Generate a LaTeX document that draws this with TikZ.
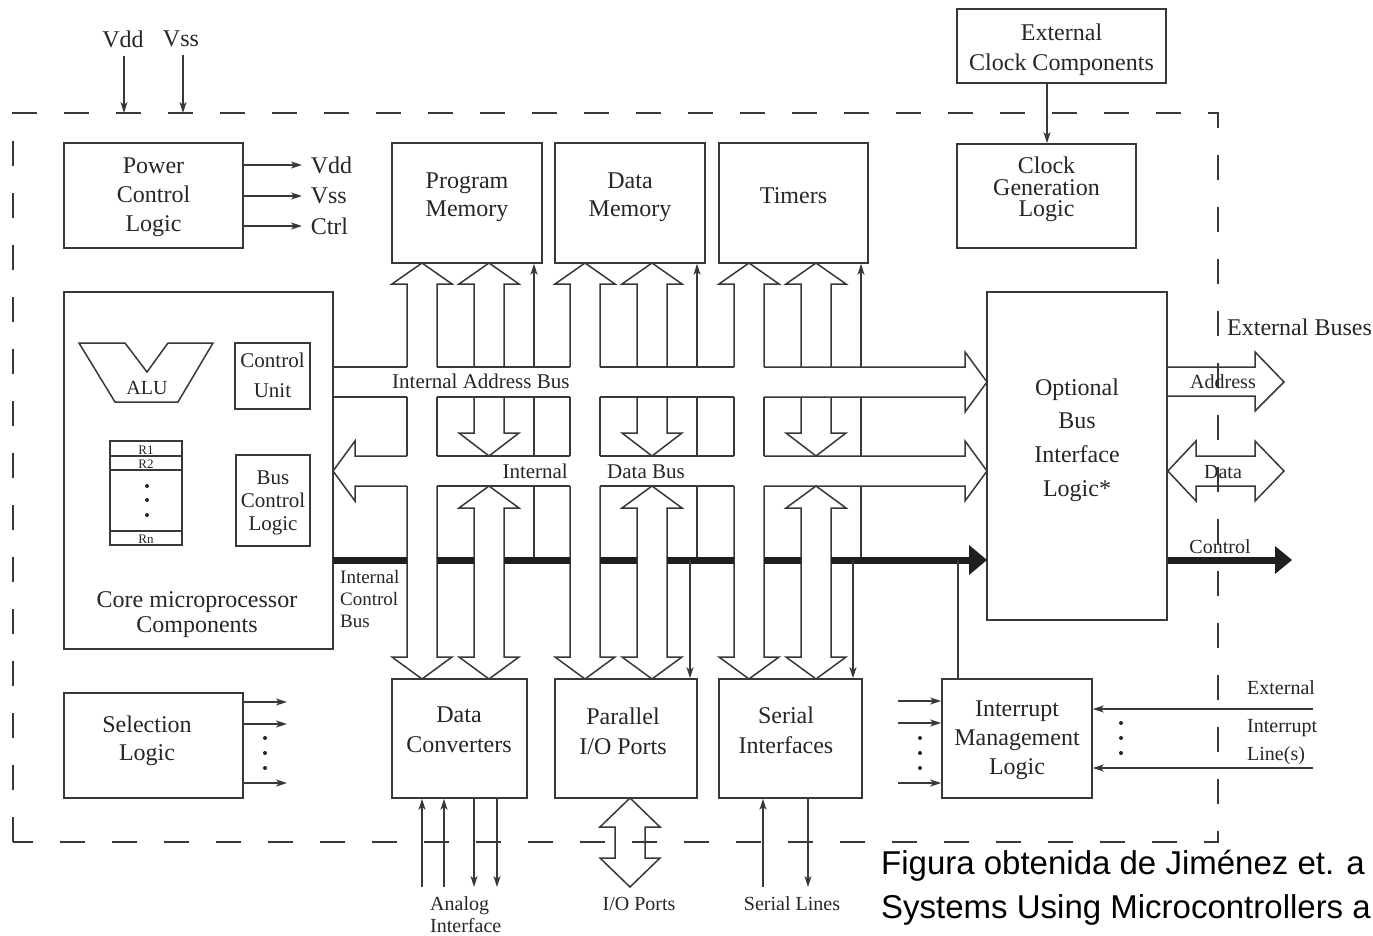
\documentclass[tikz,border=0pt]{standalone}
\usepackage{fontspec}
\setmainfont{Liberation Serif}
\newfontfamily\capfont{Liberation Sans}
\usetikzlibrary{arrows.meta}
\definecolor{ln}{gray}{0.22}
\definecolor{tx}{gray}{0.15}
\begin{document}
\begin{tikzpicture}[x=1pt,y=-1pt,
  box/.style={draw=ln,line width=1.6pt,inner sep=0pt},
  lbl/.style={text=tx,align=center,inner sep=0pt,font=\fontsize{24}{29}\selectfont},
  small/.style={text=tx,inner sep=0pt,font=\fontsize{20}{22}\selectfont},
  wire/.style={draw=ln,line width=1.5pt},
  arr/.style={wire,-{Stealth[length=11pt,width=7pt,inset=3pt]}},
  bus/.style={draw=ln,line width=1.5pt,line join=miter},
  cbus/.style={draw=black!88,line width=7pt},
  ctip/.style={fill=black!88},
]
\useasboundingbox (0,0) rectangle (1373,936);
\fill[white] (0,0) rectangle (1373,936);

% ---------- chip outline ----------
\draw[ln,line width=1.5pt,dash pattern=on 25pt off 27pt]
  (13,842) -- (13,113) -- (1218,113) -- (1218,842) -- cycle;

% ---------- blocks ----------
\node[box,minimum width=179,minimum height=105] (pcl) at (153.5,195.5) {};
\node[lbl] (pcl-t) at (153.5,197) {Power\\Control\\Logic};

\node[box,minimum width=150,minimum height=120] (pm) at (467,203) {};
\node[lbl,font=\fontsize{24}{28}\selectfont] (pm-t) at (467,197.5) {Program\\Memory};
\node[box,minimum width=150,minimum height=120] (dm) at (630,203) {};
\node[lbl,font=\fontsize{24}{28}\selectfont] (dm-t) at (630,197.5) {Data\\Memory};
\node[box,minimum width=149,minimum height=120] (tm) at (793.5,203) {};
\node[lbl] (tm-t) at (793.5,196) {Timers};

\node[box,minimum width=209,minimum height=74] (ecc) at (1061.5,46) {};
\node[lbl,font=\fontsize{24}{30}\selectfont] (ecc-t) at (1061.5,49.5) {External\\Clock Components};
\node[box,minimum width=179,minimum height=104] (cgl) at (1046.5,196) {};
\node[lbl,font=\fontsize{24}{21.5}\selectfont] (cgl-t) at (1046.5,189.5) {Clock\\Generation\\Logic};

\node[box,minimum width=269,minimum height=357] (core) at (198.5,470.5) {};
\node[lbl,font=\fontsize{24}{25}\selectfont] (core-t) at (197,615) {Core microprocessor\\Components};

\node[box,minimum width=180,minimum height=328] (opt) at (1077,456) {};
\node[lbl,font=\fontsize{24}{33.7}\selectfont] (opt-t) at (1077,440) {Optional\\Bus\\Interface\\Logic*};

\node[box,minimum width=179,minimum height=105] (sel) at (153.5,745.5) {};
\node[lbl,font=\fontsize{24}{28}\selectfont] (sel-t) at (147,740.5) {Selection\\Logic};

\node[box,minimum width=135,minimum height=119] (dc) at (459.5,738.5) {};
\node[lbl,font=\fontsize{24}{30}\selectfont] (dc-t) at (459,730) {Data\\Converters};
\node[box,minimum width=142,minimum height=119] (pio) at (626,738.5) {};
\node[lbl,font=\fontsize{24}{30}\selectfont] (pio-t) at (623,731) {Parallel\\I/O Ports};
\node[box,minimum width=143,minimum height=119] (si) at (790.5,738.5) {};
\node[lbl,font=\fontsize{24}{30}\selectfont] (si-t) at (786,730) {Serial\\Interfaces};
\node[box,minimum width=150,minimum height=119] (iml) at (1017,738.5) {};
\node[lbl,font=\fontsize{24}{29}\selectfont] (iml-t) at (1017,740.5) {Interrupt\\Management\\Logic};

% ---------- inside the core ----------
\draw[wire,line join=miter] (79,343) -- (125,343) -- (147,372) -- (168,343) -- (213,343)
  -- (178,402) -- (115,402) -- cycle;
\node[small] (alu) at (147,388) {ALU};
\node[box,line width=1.5pt,minimum width=75,minimum height=66] (cu) at (272.5,376) {};
\node[lbl,font=\fontsize{21}{30}\selectfont] (cu-t) at (272.5,375) {Control\\Unit};
\node[box,line width=1.5pt,minimum width=74,minimum height=91] (bcl) at (273,500.5) {};
\node[lbl,font=\fontsize{21}{23}\selectfont] (bcl-t) at (273,503) {Bus\\Control\\Logic};
\node[box,line width=1.5pt,minimum width=72,minimum height=104] (regs) at (146,493) {};
\foreach \y in {456,470,531}
  \draw[wire] (regs.west |- 0,\y) -- (regs.east |- 0,\y);
\node[text=tx,inner sep=0pt,font=\fontsize{13}{13}\selectfont,anchor=base] (r1) at (146,454) {R1};
\node[text=tx,inner sep=0pt,font=\fontsize{13}{13}\selectfont,anchor=base] (r2) at (146,468.5) {R2};
\node[text=tx,inner sep=0pt,font=\fontsize{13}{13}\selectfont,anchor=base] (rn) at (146,543.5) {Rn};
\foreach \y in {486,500,515} \fill[tx] (147,\y) circle (2pt);

% ---------- power ----------
\node[lbl] (vddin) at (123,39) {Vdd};
\node[lbl] (vssin) at (181,39) {Vss};
\draw[arr] ([yshift=-8pt]vddin.south -| 124,0) -- (124,113);
\draw[arr] ([yshift=-8pt]vssin.south -| 183,0) -- (183,113);
\foreach \y/\t in {165/Vdd,196/Vss,226/Ctrl}
  \draw[arr] (pcl.east |- 0,\y) -- (302,\y) node[lbl,anchor=west,xshift=8pt] {\t};

% ---------- clock ----------
\draw[arr] (ecc.south -| 1047,0) -- (cgl.north -| 1047,0);

% ---------- vertical bus channels ----------
\foreach \L/\m in {392/pm,555/dm,719/tm}{
  % memory <-> peripheral channel
  \draw[bus] ({\L+15},367) -- ({\L+15},284) -- (\L,284) -- ({\L+30},263) -- ({\L+60},284)
    -- ({\L+45},284) -- ({\L+45},367);
  \draw[bus] ({\L+15},397) -- ({\L+15},456);
  \draw[bus] ({\L+45},397) -- ({\L+45},456);
  \draw[bus] ({\L+15},486) -- ({\L+15},657) -- (\L,657) -- ({\L+30},679) -- ({\L+60},657)
    -- ({\L+45},657) -- ({\L+45},486);
  % memory <-> data bus
  \draw[bus] ({\L+82},367) -- ({\L+82},284) -- ({\L+67},284) -- ({\L+97},263) -- ({\L+127},284)
    -- ({\L+112},284) -- ({\L+112},367);
  \draw[bus] ({\L+82},397) -- ({\L+82},433) -- ({\L+67},433) -- ({\L+97},456) -- ({\L+127},433)
    -- ({\L+112},433) -- ({\L+112},397);
  % data bus <-> peripheral
  \draw[bus] ({\L+82},508) -- ({\L+67},508) -- ({\L+97},486) -- ({\L+127},508) -- ({\L+112},508)
    -- ({\L+112},657) -- ({\L+127},657) -- ({\L+97},679) -- ({\L+67},657) -- ({\L+82},657) -- cycle;
  % control line up to the block
  \pgfmathsetmacro\xc{\L+142}
  \draw[wire] (\xc,560) -- (\xc,486);
  \draw[wire] (\xc,456) -- (\xc,397);
  \draw[arr] (\xc,367) -- (\m.south -| \xc,0);
}

% ---------- internal address bus ----------
\draw[bus] (333,367) -- (407,367);
\draw[bus] (437,367) -- (570,367);
\draw[bus] (600,367) -- (734,367);
\draw[bus] (764,367) -- (965,367) -- (965,352) -- (987,382) -- (965,412) -- (965,397) -- (764,397);
\draw[bus] (734,397) -- (600,397);
\draw[bus] (570,397) -- (437,397);
\draw[bus] (407,397) -- (333,397);
\node[text=tx,inner sep=0pt,font=\fontsize{21}{21}\selectfont,anchor=base west] (iab) at (392,388) {Internal Address Bus};

% ---------- internal data bus ----------
\draw[bus] (407,456) -- (355,456) -- (355,441) -- (333,471) -- (355,501) -- (355,486) -- (407,486);
\draw[bus] (437,456) -- (570,456);
\draw[bus] (437,486) -- (570,486);
\draw[bus] (600,456) -- (734,456);
\draw[bus] (600,486) -- (734,486);
\draw[bus] (764,456) -- (965,456) -- (965,441) -- (987,471) -- (965,501) -- (965,486) -- (764,486);
\node[text=tx,inner sep=0pt,font=\fontsize{21}{21}\selectfont,anchor=base east] (idb1) at (568,478) {Internal};
\node[text=tx,inner sep=0pt,font=\fontsize{21}{21}\selectfont,anchor=base west] (idb2) at (607,478) {Data Bus};

% ---------- internal control bus ----------
\foreach \a/\b in {333/407,437/474,504/570,600/637,667/734,764/801,831/971}
  \draw[cbus] (\a,560) -- (\b,560);
\fill[ctip] (969,545) -- (987,560) -- (969,575) -- cycle;
\node[text=tx,inner sep=0pt,align=left,font=\fontsize{19}{22}\selectfont,anchor=north west] (icb) at (340,570) {Internal\\Control\\Bus};
\draw[arr] (690,560) -- (pio.north -| 690,0);
\draw[arr] (853,560) -- (si.north -| 853,0);
\draw[wire] (958,560) -- (iml.north -| 958,0);

% ---------- external buses ----------
\node[lbl,anchor=base west] (extb) at (1227,335) {External Buses};
\draw[bus] (opt.east |- 0,367) -- (1255,367) -- (1255,352) -- (1284,382) -- (1255,411) -- (1255,396) -- (opt.east |- 0,396);
\draw[bus] (opt.east |- 0,471) -- (1196,441) -- (1196,456) -- (1255,456) -- (1255,441) -- (1284,471)
  -- (1255,501) -- (1255,486) -- (1196,486) -- (1196,501) -- cycle;
\draw[cbus] (opt.east |- 0,560) -- (1277,560);
\fill[ctip] (1275,546) -- (1292,560) -- (1275,574) -- cycle;
\node[small,anchor=base] (xaddr) at (1223,388) {Address};
\node[small,anchor=base] (xdata) at (1223,478) {Data};
\node[small,anchor=base] (xctl) at (1220,553) {Control};

% ---------- selection logic outputs ----------
\foreach \y in {702,724,783} \draw[arr] (sel.east |- 0,\y) -- (287,\y);
\foreach \y in {738,753,768} \fill[tx] (265,\y) circle (2pt);

% ---------- interrupts ----------
\foreach \y in {701,723,783} \draw[arr] (898,\y) -- (iml.west |- 0,\y);
\foreach \y in {738,753,768} \fill[tx] (920,\y) circle (2pt);
\foreach \y in {709,768} \draw[arr] (1313,\y) -- (iml.east |- 0,\y);
\foreach \y in {723,738,753} \fill[tx] (1121,\y) circle (2pt);
\node[small,anchor=base west] (ei1) at (1247,694) {External};
\node[small,anchor=base west] (ei2) at (1247,732) {Interrupt};
\node[small,anchor=base west] (ei3) at (1247,760) {Line(s)};

% ---------- peripheral pins ----------
\foreach \x in {422,444} \draw[arr] (\x,887) -- (dc.south -| \x,0);
\foreach \x in {474,497} \draw[arr] (dc.south -| \x,0) -- (\x,887);
\draw[bus] (630,798) -- (660,827) -- (645,827) -- (645,858) -- (660,858) -- (630,887)
  -- (600,858) -- (615,858) -- (615,827) -- (600,827) -- cycle;
\draw[arr] (763,887) -- (si.south -| 763,0);
\draw[arr] (si.south -| 808,0) -- (808,887);
\node[small,align=left,anchor=north west] (ana) at (430,896) {Analog\\Interface};
\node[small,anchor=base] (iop) at (639,910) {I/O Ports};
\node[small,anchor=base] (sl) at (792,910) {Serial Lines};

% ---------- source note ----------
\node[anchor=base west,inner sep=0pt,font=\capfont\fontsize{33}{40}\selectfont] (cap1) at (881,874) {Figura obtenida de Jiménez et. a};
\node[anchor=base west,inner sep=0pt,font=\capfont\fontsize{33}{40}\selectfont] (cap2) at (881,918) {Systems Using Microcontrollers a};
\end{tikzpicture}
\end{document}
